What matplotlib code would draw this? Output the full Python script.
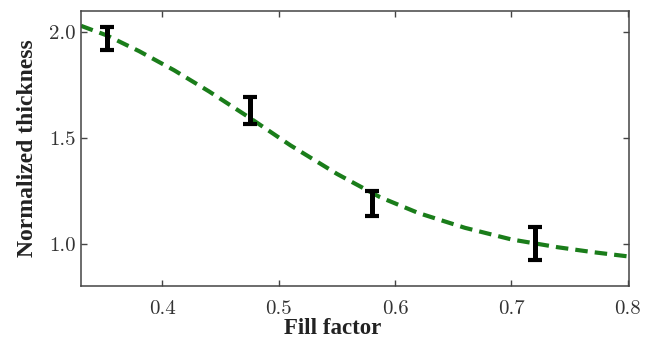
import matplotlib
matplotlib.use("Agg")
import matplotlib.pyplot as plt

# Measured points with their error bars
fill_factor = [0.352, 0.475, 0.580, 0.720]
thickness = [1.97, 1.63, 1.19, 1.00]
thickness_err = [0.054, 0.063, 0.060, 0.079]

# Model curve, sampled points
model_fill = [0.330, 0.352, 0.380, 0.410, 0.440, 0.475, 0.510, 0.550, 0.587,
              0.620, 0.660, 0.700, 0.740, 0.770, 0.800]
model_thick = [2.030, 1.985, 1.910, 1.820, 1.720, 1.595, 1.465, 1.330, 1.220,
               1.145, 1.075, 1.020, 0.983, 0.960, 0.940]

x_ticks = [0.4, 0.5, 0.6, 0.7, 0.8]
y_ticks = [1.0, 1.5, 2.0]

fig = plt.figure(figsize=(6.45, 3.44), dpi=100)
ax = fig.add_axes([81 / 645, 1 - 286 / 344, (629 - 81) / 645, (286 - 11) / 344])

ax.plot(model_fill, model_thick, color="#1a7d1a", lw=3.0, ls=(0, (3.0, 1.7)),
        zorder=2)
ax.errorbar(fill_factor, thickness, yerr=thickness_err, fmt="none",
            ecolor="black", elinewidth=3.6, capsize=4.8, capthick=3.0,
            zorder=3)

ax.set_xlim(0.330, 0.801)
ax.set_ylim(0.80, 2.10)
ax.set_xticks(x_ticks)
ax.set_yticks(y_ticks)
ax.set_xticklabels([f"{v:.1f}" for v in x_ticks])
ax.set_yticklabels([f"{v:.1f}" for v in y_ticks])

for lab in ax.get_xticklabels() + ax.get_yticklabels():
    lab.set_fontfamily("cmr10")
    lab.set_fontsize(15)
    lab.set_color("#333333")

ax.tick_params(direction="in", length=4, width=1, color="#444444",
               top=True, right=True)
ax.tick_params(axis="x", pad=10)
ax.tick_params(axis="y", pad=4)
for s in ax.spines.values():
    s.set_color("#444444")
    s.set_linewidth(1.1)

ax.set_xlabel("Fill factor", fontfamily="Liberation Serif", fontweight="bold",
              fontsize=16.5, color="#222222")
ax.xaxis.set_label_coords(0.46, -0.118)
ax.set_ylabel("Normalized thickness", fontfamily="Liberation Serif",
              fontweight="bold", fontsize=17, color="#222222", labelpad=8)

fig.savefig("out.png", dpi=100)
